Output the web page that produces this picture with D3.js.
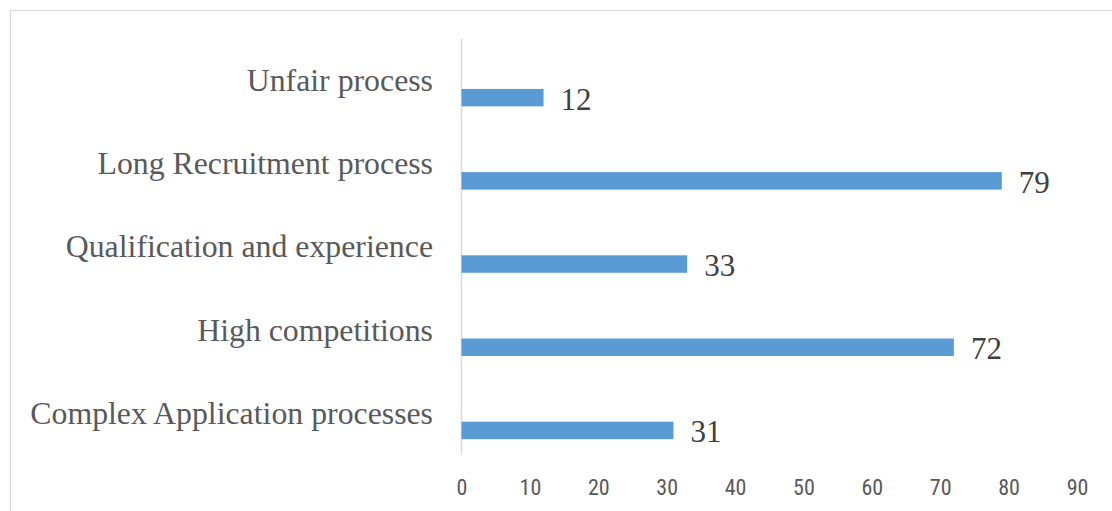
<!DOCTYPE html>
<html>
<head>
<meta charset="utf-8">
<script src="https://cdn.jsdelivr.net/npm/d3@7"></script>
<style>
  html, body { margin: 0; padding: 0; background: #fff; }
  svg { display: block; }
</style>
</head>
<body>
<svg id="chart" width="1112" height="511"></svg>
<script>
// Reasons given, listed top to bottom
const categories = [
  "Unfair process",
  "Long Recruitment process",
  "Qualification and experience",
  "High competitions",
  "Complex Application processes"
];
const values = [12, 79, 33, 72, 31];
const tickValues = [0, 10, 20, 30, 40, 50, 60, 70, 80, 90];

const svg = d3.select("#chart");
const W = 1112, H = 511;

// Chart frame
svg.append("rect")
  .attr("x", 10.5).attr("y", 10.5)
  .attr("width", W + 20).attr("height", H + 20)
  .attr("fill", "#fff")
  .attr("stroke", "#d9d9d9").attr("stroke-width", 1.2);

const x = d3.scaleLinear().domain([0, 90]).range([461.5, 1077]);
const y = d3.scaleBand().domain(categories).range([39, 455]).padding(0);

// Category axis line
svg.append("line")
  .attr("x1", x(0)).attr("x2", x(0))
  .attr("y1", y.range()[0]).attr("y2", y.range()[1])
  .attr("stroke", "#d9d9d9").attr("stroke-width", 1.5);

// Value axis tick labels
const xAxis = d3.axisBottom(x).tickValues(tickValues).tickSize(0).tickPadding(0);
const gx = svg.append("g").attr("transform", "translate(0,479)").call(xAxis);
gx.select(".domain").remove();
gx.selectAll("text")
  .attr("dy", "0.71em")
  .attr("fill", "#595959")
  .style("font-family", "'Liberation Sans Narrow', 'Roboto Condensed', Roboto, sans-serif")
  .style("font-size", "22px");

// Category labels
svg.append("g").selectAll("text")
  .data(categories)
  .join("text")
  .attr("x", 433)
  .attr("y", d => y(d) + y.bandwidth() / 2)
  .attr("dy", "0.33em")
  .attr("text-anchor", "end")
  .attr("fill", "#595959")
  .style("font-family", "'Liberation Serif', 'Times New Roman', serif")
  .style("font-size", "31.8px")
  .text(d => d);

// Bars
const barTop = 0.6, barH = 0.21;
const data = categories.map((c, i) => ({ c, v: values[i] }));
svg.append("g").selectAll("rect")
  .data(data)
  .join("rect")
  .attr("x", x(0))
  .attr("y", d => y(d.c) + y.bandwidth() * barTop)
  .attr("width", d => x(d.v) - x(0))
  .attr("height", y.bandwidth() * barH)
  .attr("fill", "#5b9bd5");

// Value labels
svg.append("g").selectAll("text")
  .data(data)
  .join("text")
  .attr("x", d => x(d.v) + 17)
  .attr("y", d => y(d.c) + y.bandwidth() * (barTop + barH / 2) + 1)
  .attr("dy", "0.35em")
  .attr("fill", "#404040")
  .style("font-family", "'Liberation Serif', 'Times New Roman', serif")
  .style("font-size", "31px")
  .text(d => d.v);
</script>
</body>
</html>
